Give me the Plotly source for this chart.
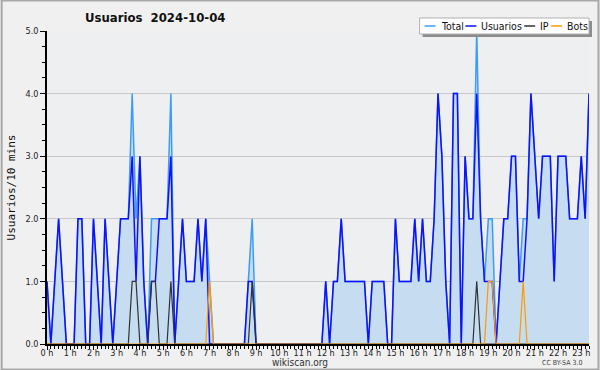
import plotly.graph_objects as go

# ---- data (10-minute steps starting at 00:00) ----
usuarios = [1,0,1,2,1,0,0,0,2,2,
            0,0,2,1,0,2,1,0,1,2,
            2,2,3,1,3,1,0,1,1,2,
            2,2,3,0,1,2,1,1,1,2,
            1,2,0,0,0,0,0,0,0,0,
            0,0,1,1,0,0,0,0,0,0,
            0,0,0,0,0,0,0,0,0,0,
            0,0,1,0,1,1,2,1,1,1,
            1,1,1,0,1,1,1,1,0,0,
            2,1,1,1,1,2,1,2,1,1,
            2,4,3,1,0,4,4,0,3,2,
            2,4,2,1,1,1,0,1,2,2,
            3,3,1,1,2,4,3,2,3,3,
            3,1,3,3,3,2,2,2,3,2,
            4]
total = [1,0,1,2,1,0,0,0,2,2,
         0,0,2,1,0,2,1,0,1,2,
         2,2,4,2,3,1,0,2,2,2,
         2,2,4,0,1,2,1,1,1,2,
         1,2,1,0,0,0,0,0,0,0,
         0,0,1,2,0,0,0,0,0,0,
         0,0,0,0,0,0,0,0,0,0,
         0,0,1,0,1,1,2,1,1,1,
         1,1,1,0,1,1,1,1,0,0,
         2,1,1,1,1,2,1,2,1,1,
         2,4,3,1,0,4,4,0,3,2,
         2,5,2,1,2,2,0,1,2,2,
         3,3,1,2,2,4,3,2,3,3,
         3,1,3,3,3,2,2,2,3,2,
         4]
ip = [0]*141
for k in (22, 23, 27, 28, 32, 53, 111):
    ip[k] = 1
bots = [0]*141
for k in (42, 114, 115, 123):
    bots[k] = 1

hours = [i / 6 for i in range(len(usuarios))]
hour_ticks = list(range(24))
hour_labels = [f"{h} h" for h in hour_ticks]
y_ticks = [0, 1, 2, 3, 4, 5]

series_names = ["Total", "Usuarios", "IP", "Bots"]
series_colors = ["#3d9cf5", "#1010ff", "#333333", "#ff9a00"]

W, H = 600, 370
L, R, T, B = 46, 10, 31, 26
PW, PH = W - L - R, H - T - B

def px2x(x):
    return (x - L) / PW

def px2y(y):
    return (H - B - y) / PH

FONT = "DejaVu Sans Condensed, DejaVu Sans"

fig = go.Figure()
fig.add_trace(go.Scatter(x=hours, y=total, name="Total", mode="lines",
                         line=dict(color=series_colors[0], width=1.5),
                         fill="tozeroy", fillcolor="#c6dcf0"))
fig.add_trace(go.Scatter(x=hours, y=usuarios, name="Usuarios", mode="lines",
                         line=dict(color=series_colors[1], width=1.5)))
fig.add_trace(go.Scatter(x=hours, y=ip, name="IP", mode="lines",
                         line=dict(color=series_colors[2], width=1.2)))
fig.add_trace(go.Scatter(x=hours, y=bots, name="Bots", mode="lines",
                         line=dict(color=series_colors[3], width=1.2)))

shapes = []
annotations = []

# outer frame
shapes.append(dict(type="rect", xref="paper", yref="paper",
                   x0=px2x(0.5), x1=px2x(W - 0.5), y0=px2y(H - 0.5), y1=px2y(0.5),
                   line=dict(color="#a8a8a8", width=2), fillcolor="rgba(0,0,0,0)",
                   layer="below"))

# custom legend box (with shadow)
lx0, lx1, ly0, ly1 = 420, 590, 18, 34
shapes.append(dict(type="rect", xref="paper", yref="paper",
                   x0=px2x(lx0 + 3), x1=px2x(lx1 + 3), y0=px2y(ly1 + 3), y1=px2y(ly0 + 3),
                   line=dict(width=0), fillcolor="#8c8c8c"))
shapes.append(dict(type="rect", xref="paper", yref="paper",
                   x0=px2x(lx0), x1=px2x(lx1), y0=px2y(ly1), y1=px2y(ly0),
                   line=dict(color="#b0b0b0", width=1), fillcolor="white"))
item_x = [425, 466, 525, 552]
text_x = [439, 480, 539, 566]
ly = (ly0 + ly1) / 2
for name, col, xs, xt in zip(series_names, series_colors, item_x, text_x):
    shapes.append(dict(type="line", xref="paper", yref="paper",
                       x0=px2x(xs), x1=px2x(xs + 11), y0=px2y(ly), y1=px2y(ly),
                       line=dict(color=col, width=1.5)))
    annotations.append(dict(text=name, xref="paper", yref="paper",
                            x=px2x(xt), y=px2y(ly), xanchor="left", yanchor="middle",
                            showarrow=False, font=dict(family=FONT, size=10.5, color="#111")))

annotations.append(dict(text="wikiscan.org", xref="paper", yref="paper",
                        x=px2x(300), y=px2y(362), xanchor="center", yanchor="middle",
                        showarrow=False, font=dict(family=FONT, size=10, color="#333")))
annotations.append(dict(text="CC BY-SA 3.0", xref="paper", yref="paper",
                        x=px2x(585), y=px2y(363), xanchor="right", yanchor="middle",
                        showarrow=False, font=dict(family=FONT, size=7, color="#444")))

fig.update_layout(
    width=W, height=H,
    margin=dict(l=L, r=R, t=T, b=B, pad=0),
    paper_bgcolor="#f0f0f0",
    plot_bgcolor="#edeff1",
    showlegend=False,
    title=dict(text="Usuarios\u00a0\u00a02024-10-04", x=85 / W, xanchor="left",
               xref="container", y=1 - 17 / H, yanchor="middle", yref="container",
               font=dict(family=FONT, size=13, color="#111", weight="bold")),
    shapes=shapes,
    annotations=annotations,
    xaxis=dict(range=[0, hours[-1]], tickvals=hour_ticks, ticktext=hour_labels,
               showline=True, linecolor="black", linewidth=1.5, mirror=False,
               ticks="outside", ticklen=4, tickcolor="black", tickwidth=1,
               minor=dict(dtick=1 / 6, tick0=0, ticks="outside", ticklen=3,
                          tickcolor="black", tickwidth=1, showgrid=False),
               showgrid=False, zeroline=False, ticklabelstandoff=-5,
               tickfont=dict(family=FONT, size=9, color="#222")),
    yaxis=dict(range=[0, 5], tickvals=y_ticks, tickformat=".1f",
               showline=True, linecolor="black", linewidth=1.5,
               ticks="outside", ticklen=5, tickcolor="black", tickwidth=1,
               minor=dict(dtick=0.25, tick0=0, ticks="outside", ticklen=3,
                          tickcolor="black", tickwidth=1, showgrid=False),
               showgrid=True, gridcolor="#c8c8c8", gridwidth=1, zeroline=False,
               tickfont=dict(family=FONT, size=9, color="#222"),
               title=dict(text="Usuarios/10 mins", standoff=8,
                          font=dict(family="DejaVu Sans Mono", size=11, color="#111"))),
)

fig.write_html("out.html", config={"displayModeBar": False},
               post_script="document.body.style.margin='0';document.body.style.padding='0';document.body.style.overflow='hidden';")
